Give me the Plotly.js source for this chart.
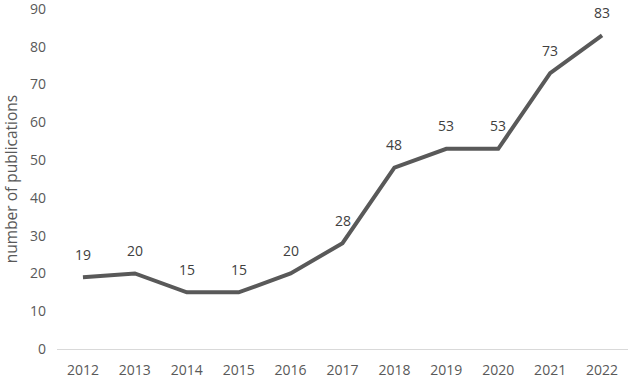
<!DOCTYPE html>
<html>
<head>
<meta charset="utf-8">
<script src="https://cdn.plot.ly/plotly-3.0.1.min.js"></script>
<style>html,body{margin:0;padding:0;background:#fff;}#chart{width:632px;height:378px;}</style>
</head>
<body>
<div id="chart"></div>
<script>
var years = ["2012","2013","2014","2015","2016","2017","2018","2019","2020","2021","2022"];
var publications = [19, 20, 15, 15, 20, 28, 48, 53, 53, 73, 83];
var yTicks = [0, 10, 20, 30, 40, 50, 60, 70, 80, 90];

var fam = "Open Sans, Liberation Sans, sans-serif";
var tickFont = {family: fam, size: 14, color: "#595959"};

var trace = {
  x: years,
  y: publications,
  type: "scatter",
  mode: "lines",
  line: {color: "#595959", width: 4},
  hoverinfo: "none"
};

var annotations = years.map(function(yr, i) {
  return {
    x: i, y: publications[i], xref: "x", yref: "y",
    text: String(publications[i]),
    showarrow: false, yshift: 23,
    font: {family: fam, size: 14, color: "#404040"}
  };
});

var layout = {
  width: 632, height: 378,
  margin: {l: 57, r: 4, t: 9, b: 29},
  paper_bgcolor: "#fff", plot_bgcolor: "#fff",
  showlegend: false,
  font: tickFont,
  xaxis: {
    type: "category",
    range: [-0.5, 10.5],
    showgrid: false, zeroline: false,
    showline: true, linecolor: "#d9d9d9", linewidth: 1,
    ticks: "", ticklabelstandoff: 8, tickfont: tickFont, ticklabeloverflow: "allow"
  },
  yaxis: {
    range: [0, 90],
    tickvals: yTicks,
    showgrid: false, zeroline: false, showline: false,
    ticks: "", ticklabelstandoff: 10, ticklabeloverflow: "allow",
    tickfont: tickFont,
    title: {text: "number of publications", font: {family: fam, size: 15.5, color: "#595959"}, standoff: 8}
  },
  annotations: annotations
};

Plotly.newPlot("chart", [trace], layout, {staticPlot: true, displayModeBar: false});
</script>
</body>
</html>
